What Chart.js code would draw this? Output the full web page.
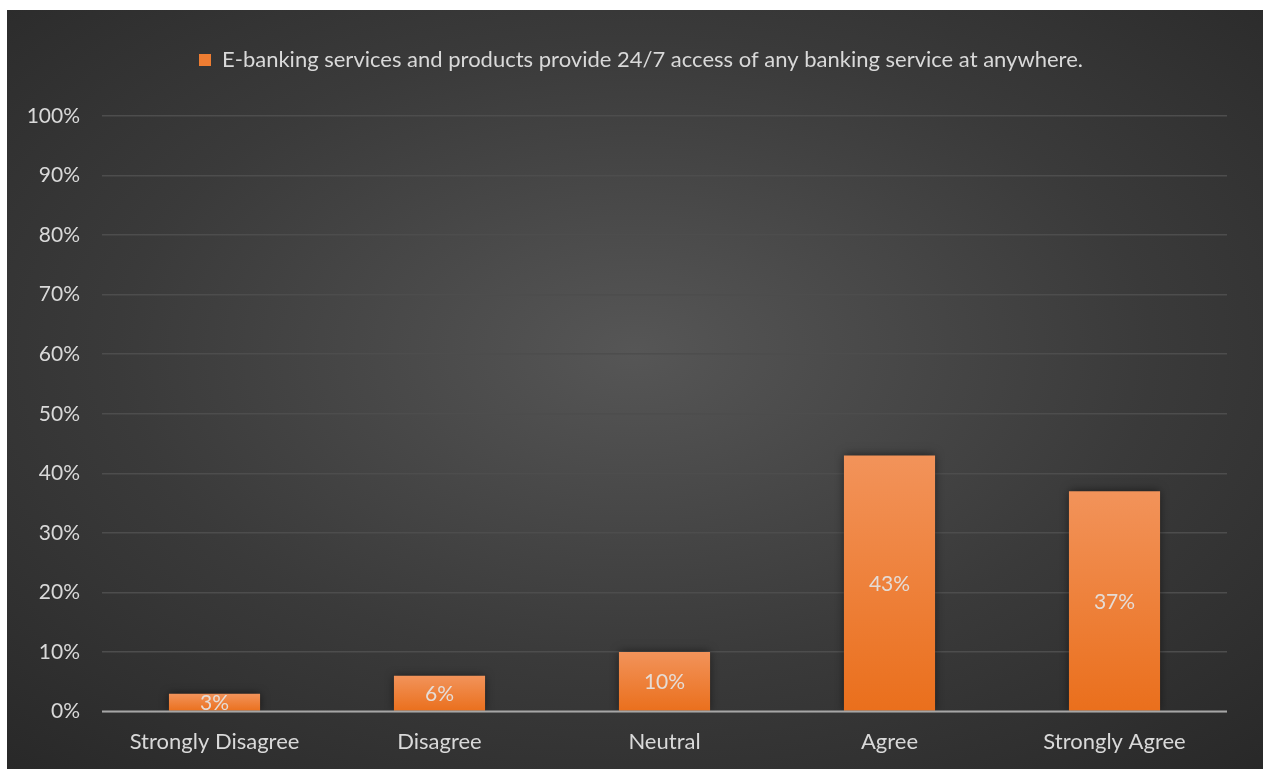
<!DOCTYPE html>
<html>
<head>
<meta charset="utf-8">
<script src="https://cdn.jsdelivr.net/npm/chart.js@4/dist/chart.umd.min.js"></script>
<style>
  html, body { margin: 0; padding: 0; background: #fff; }
  .chart-box {
    position: absolute;
    left: 7px; top: 10px;
    width: 1256px; height: 759px;
    background: radial-gradient(ellipse 75% 75% at 50% 45%, #565656 0%, #3a3a3a 55%, #282828 100%);
  }
  .chart-box canvas { display: block; }
</style>
</head>
<body>
<div class="chart-box"><canvas id="chart" width="1256" height="759"></canvas></div>
<script>
const categories = ['Strongly Disagree', 'Disagree', 'Neutral', 'Agree', 'Strongly Agree'];
const seriesLabel = 'E-banking services and products provide 24/7 access of any banking service at anywhere.';
const percentValues = [3, 6, 10, 43, 37];
const yTicks = [0, 10, 20, 30, 40, 50, 60, 70, 80, 90, 100];

const textColor = '#d9d9d9';
const fontFamily = 'Lato, "Open Sans", sans-serif';

// orange bars, lighter at the top of each bar
function barFill(ctx) {
  const chart = ctx.chart;
  const y = chart.scales.y;
  if (!chart.chartArea || !y || ctx.raw === undefined) return '#ee7d32';
  const top = y.getPixelForValue(ctx.raw);
  const base = y.getPixelForValue(0);
  if (!isFinite(top) || !isFinite(base) || top === base) return '#ee7d32';
  const g = chart.ctx.createLinearGradient(0, top, 0, base);
  g.addColorStop(0, '#f2935a');
  g.addColorStop(1, '#ea6f1c');
  return g;
}

const barShadow = {
  id: 'barShadow',
  beforeDatasetDraw(chart) {
    const c = chart.ctx;
    c.save();
    c.shadowColor = 'rgba(0,0,0,0.55)';
    c.shadowBlur = 9;
    c.shadowOffsetX = 0;
    c.shadowOffsetY = 0;
  },
  afterDatasetDraw(chart) {
    chart.ctx.restore();
  }
};

const barValues = {
  id: 'barValues',
  afterDatasetsDraw(chart) {
    const c = chart.ctx;
    const meta = chart.getDatasetMeta(0);
    c.save();
    c.font = '21px ' + fontFamily;
    c.fillStyle = 'rgba(228,228,228,0.92)';
    c.textAlign = 'center';
    c.textBaseline = 'middle';
    meta.data.forEach((bar, i) => {
      const mid = (bar.y + bar.base) / 2;
      c.fillText(percentValues[i] + '%', bar.x, mid + 1);
    });
    c.restore();
  }
};

// zero line drawn brighter than the other gridlines
const zeroLine = {
  id: 'zeroLine',
  afterDatasetsDraw(chart) {
    const c = chart.ctx;
    const area = chart.chartArea;
    const y0 = chart.scales.y.getPixelForValue(0);
    c.save();
    c.strokeStyle = '#a6a6a6';
    c.lineWidth = 2;
    c.beginPath();
    c.moveTo(area.left, y0);
    c.lineTo(area.right, y0);
    c.stroke();
    c.restore();
  }
};

// more room between the legend and the plot, and centre it on the whole canvas
const legendGap = {
  id: 'legendGap',
  beforeInit(chart) {
    const fit = chart.legend.fit;
    chart.legend.fit = function () {
      fit.call(this);
      this.height += 35;
    };
  },
  afterLayout(chart) {
    chart.legend.left += 24;
    chart.legend.right += 24;
  }
};

new Chart(document.getElementById('chart'), {
  type: 'bar',
  data: {
    labels: categories,
    datasets: [{
      label: seriesLabel,
      data: percentValues,
      backgroundColor: barFill,
      borderWidth: 0,
      categoryPercentage: 1,
      barPercentage: 0.405
    }]
  },
  options: {
    responsive: false,
    animation: false,
    layout: { padding: { left: 0, right: 36, top: 13, bottom: 5 } },
    plugins: {
      legend: {
        position: 'top',
        labels: {
          color: textColor,
          font: { family: fontFamily, size: 22 },
          boxWidth: 12,
          boxHeight: 12,
          padding: 26,
          generateLabels: () => [{
            text: seriesLabel,
            fillStyle: '#ee7d32',
            strokeStyle: '#ee7d32',
            lineWidth: 0,
            fontColor: textColor
          }]
        }
      },
      tooltip: { enabled: false }
    },
    scales: {
      x: {
        grid: { display: false },
        border: { display: false },
        ticks: {
          color: textColor,
          font: { family: fontFamily, size: 22 },
          padding: 9
        }
      },
      y: {
        min: 0,
        max: 100,
        afterFit(scale) { scale.width = 95; },
        afterBuildTicks(scale) { scale.ticks = yTicks.map(v => ({ value: v })); },
        grid: { color: '#4d4d4d', lineWidth: 1.5, drawTicks: false },
        border: { display: false },
        ticks: {
          color: textColor,
          font: { family: fontFamily, size: 21 },
          padding: 22,
          callback: v => v + '%'
        }
      }
    }
  },
  plugins: [legendGap, barShadow, zeroLine, barValues]
});
</script>
</body>
</html>
